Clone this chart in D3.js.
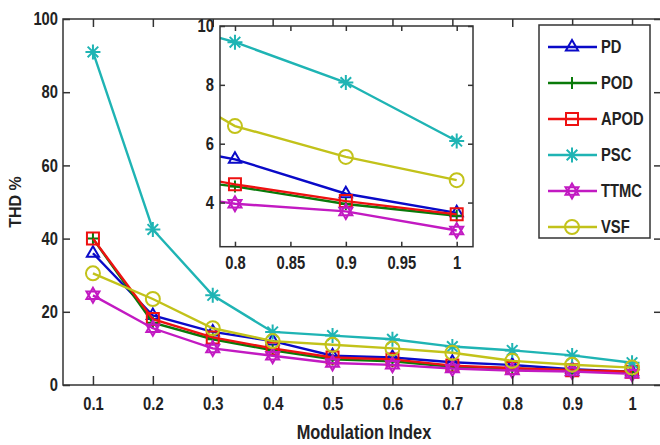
<!DOCTYPE html>
<html><head><meta charset="utf-8">
<script src="https://cdn.jsdelivr.net/npm/d3@7"></script>
<style>
body{margin:0;background:#fff;}
text{font-family:"Liberation Sans",Arial,sans-serif;font-weight:bold;fill:#222;}
</style></head><body>
<svg id="c" width="660" height="445"></svg>
<script>
const xValues = [0.1,0.2,0.3,0.4,0.5,0.6,0.7,0.8,0.9,1.0];
const seriesNames = ["PD","POD","APOD","PSC","TTMC","VSF"];
const PD   = [36, 19, 14.5, 12, 8, 7.5, 6.2, 5.47, 4.3, 3.65];
const POD  = [40, 17, 12.5, 9.5, 7, 6.5, 5.0, 4.55, 3.95, 3.55];
const APOD = [40, 18, 13, 10, 7.5, 7, 5.3, 4.62, 4.05, 3.6];
const PSC  = [91, 42.5, 24.5, 14.5, 13.5, 12.5, 10.5, 9.45, 8.08, 6.09];
const TTMC = [24.5, 15.5, 10, 8, 6, 5.5, 4.5, 3.96, 3.7, 3.05];
const VSF  = [30.5, 23.5, 15.5, 12, 11, 10, 8.8, 6.6, 5.55, 4.76];
const mainXTicks = [0.1,0.2,0.3,0.4,0.5,0.6,0.7,0.8,0.9,1];
const mainYTicks = [0,20,40,60,80,100];
const insetXTicks = [0.8,0.85,0.9,0.95,1];
const insetYTicks = [4,6,8,10];
const colors = ["#0a0ac8","#0a7a0a","#ee1111","#1fb4b4","#c21ac2","#c2c21a"];
const markers = ["triangle","plus","square","star","hexagram","circle"];
const seriesData = [PD,POD,APOD,PSC,TTMC,VSF];

const svg = d3.select("#c");
const axisColor = "#333";
const K = 0.82; // horizontal condensing of text (narrow font look)

function narrow(sel){
  sel.each(function(){
    const t = d3.select(this);
    const x0 = +(t.attr("x")||0);
    t.attr("x", x0/K);
    const tr = t.attr("transform")||"";
    t.attr("transform", (tr+" scale("+K+",1)").trim());
  });
}

function markerPath(type, r){
  const p = d3.path();
  if(type==="triangle"){
    p.moveTo(0,-r); p.lineTo(r*0.87,r*0.5); p.lineTo(-r*0.87,r*0.5); p.closePath();
  } else if(type==="plus"){
    p.moveTo(-r,0); p.lineTo(r,0); p.moveTo(0,-r); p.lineTo(0,r);
  } else if(type==="square"){
    p.rect(-r,-r,2*r,2*r);
  } else if(type==="star"){
    for(let k=0;k<4;k++){const a=k*Math.PI/4; p.moveTo(-r*Math.cos(a),-r*Math.sin(a)); p.lineTo(r*Math.cos(a),r*Math.sin(a));}
  } else if(type==="hexagram"){
    for(const off of [-Math.PI/2, Math.PI/2]){
      for(let k=0;k<3;k++){const a=off+k*2*Math.PI/3; const x=r*Math.cos(a), y=r*Math.sin(a); if(k===0)p.moveTo(x,y); else p.lineTo(x,y);}
      p.closePath();
    }
  } else if(type==="circle"){
    p.moveTo(r,0); p.arc(0,0,r,0,2*Math.PI);
  }
  return p.toString();
}
const mSize = {triangle:7, plus:6, square:6, star:7.5, hexagram:7.5, circle:7};

function drawPanel(g, xs, ys, clipId){
  const line = d3.line().x((d,i)=>xs(xValues[i])).y(d=>ys(d));
  const inner = g.append("g").attr("clip-path", clipId?`url(#${clipId})`:null);
  seriesData.forEach((vals,si)=>{
    inner.append("path").attr("d",line(vals)).attr("fill","none")
      .attr("stroke",colors[si]).attr("stroke-width",2.4);
    inner.selectAll(null).data(vals).enter().append("path")
      .attr("transform",(d,i)=>`translate(${xs(xValues[i])},${ys(d)})`)
      .attr("d",markerPath(markers[si], mSize[markers[si]]))
      .attr("fill","none").attr("stroke",colors[si]).attr("stroke-width",2);
  });
}
function styleAxis(g){
  g.select(".domain").remove();
  g.selectAll("line").attr("stroke",axisColor).attr("stroke-width",1.5);
  g.selectAll("text").attr("font-size",18).attr("fill","#222").attr("font-family",null);
  narrow(g.selectAll("text"));
}

// Main axes
const x = d3.scaleLinear().domain([0.05,1.05]).range([63,662]);
const y = d3.scaleLinear().domain([0,100]).range([385,19]);
const main = svg.append("g");
drawPanel(main, x, y, null);
main.append("rect").attr("x",63).attr("y",19).attr("width",599).attr("height",366)
  .attr("fill","none").attr("stroke",axisColor).attr("stroke-width",1.5);
const gb = main.append("g").attr("transform","translate(0,385)")
  .call(d3.axisBottom(x).tickValues(mainXTicks).tickSizeInner(-9).tickSizeOuter(0).tickPadding(12).tickFormat(d3.format("~g")));
const gt = main.append("g").attr("transform","translate(0,19)")
  .call(d3.axisTop(x).tickValues(mainXTicks).tickSizeInner(-8).tickSizeOuter(0).tickFormat(""));
const gl = main.append("g").attr("transform","translate(63,0)")
  .call(d3.axisLeft(y).tickValues(mainYTicks).tickSizeInner(-7).tickSizeOuter(0).tickPadding(5));
const gr = main.append("g").attr("transform","translate(662,0)")
  .call(d3.axisRight(y).tickValues(mainYTicks).tickSizeInner(-8).tickSizeOuter(0).tickFormat(""));
[gb,gt,gl,gr].forEach(styleAxis);

// axis labels
const xl = svg.append("text").attr("x",364).attr("y",439).attr("text-anchor","middle").attr("font-size",20).text("Modulation Index");
narrow(xl);
svg.append("text").attr("transform","translate(21,202) rotate(-90)").attr("text-anchor","middle")
  .attr("font-size",16).text("THD %");

// Inset
const ix = d3.scaleLinear().domain([0.7865,1.0147]).range([220,473]);
const iy = d3.scaleLinear().domain([2.5,10]).range([246.7,26]);
svg.append("defs").append("clipPath").attr("id","insetClip").append("rect")
  .attr("x",220).attr("y",26).attr("width",253).attr("height",220.7);
const inset = svg.append("g");
inset.append("rect").attr("x",220).attr("y",26).attr("width",253).attr("height",220.7).attr("fill","#fff");
drawPanel(inset, ix, iy, "insetClip");
inset.append("rect").attr("x",220).attr("y",26).attr("width",253).attr("height",220.7)
  .attr("fill","none").attr("stroke",axisColor).attr("stroke-width",1.5);
const ib = inset.append("g").attr("transform","translate(0,246.7)")
  .call(d3.axisBottom(ix).tickValues(insetXTicks).tickSizeInner(-5).tickSizeOuter(0).tickPadding(10).tickFormat(d3.format("~g")));
const it = inset.append("g").attr("transform","translate(0,26)")
  .call(d3.axisTop(ix).tickValues(insetXTicks).tickSizeInner(-5).tickSizeOuter(0).tickFormat(""));
const il = inset.append("g").attr("transform","translate(220,0)")
  .call(d3.axisLeft(iy).tickValues(insetYTicks).tickSizeInner(-5).tickSizeOuter(0).tickPadding(6));
const ir = inset.append("g").attr("transform","translate(473,0)")
  .call(d3.axisRight(iy).tickValues(insetYTicks).tickSizeInner(-5).tickSizeOuter(0).tickFormat(""));
[ib,it,il,ir].forEach(styleAxis);

// Legend
const lg = svg.append("g");
lg.append("rect").attr("x",539).attr("y",25).attr("width",111).attr("height",213)
  .attr("fill","#fff").attr("stroke",axisColor).attr("stroke-width",1.5);
seriesNames.forEach((name,si)=>{
  const yy = 47 + si*36;
  lg.append("line").attr("x1",548).attr("x2",597).attr("y1",yy).attr("y2",yy)
    .attr("stroke",colors[si]).attr("stroke-width",2.4);
  lg.append("path").attr("transform",`translate(572,${yy})`).attr("d",markerPath(markers[si],mSize[markers[si]]))
    .attr("fill","none").attr("stroke",colors[si]).attr("stroke-width",2);
  const t = lg.append("text").attr("x",601).attr("y",yy+6.5).attr("font-size",18).text(name);
  narrow(t);
});
</script></body></html>
